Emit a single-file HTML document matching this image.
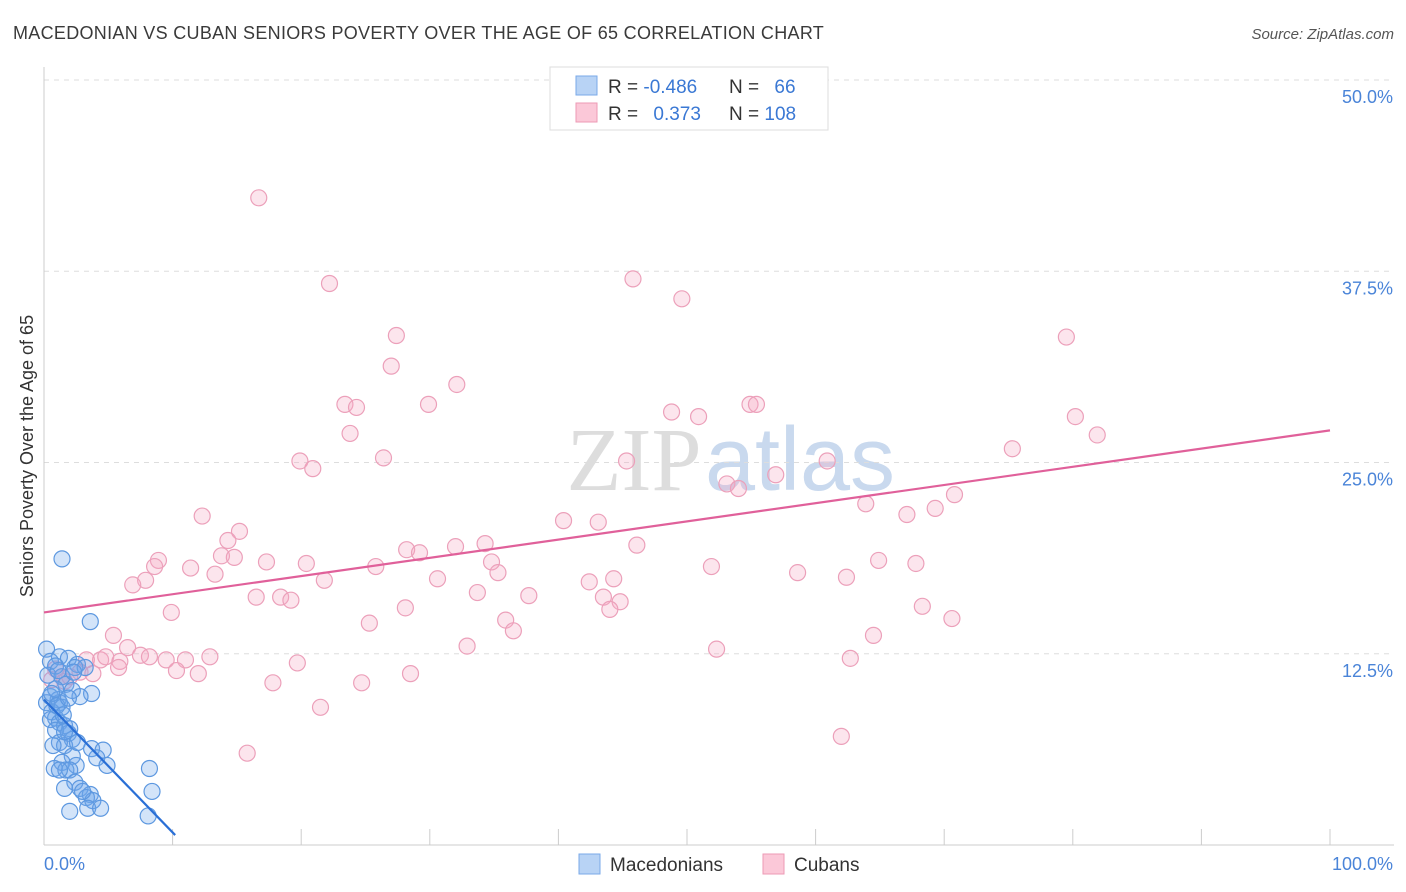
<!DOCTYPE html>
<html><head><meta charset="utf-8">
<style>
body{margin:0;background:#fff;font-family:"Liberation Sans",sans-serif;}
svg{display:block}
</style></head>
<body>
<svg id="chart" width="1406" height="892" xmlns="http://www.w3.org/2000/svg">
<text x="13" y="39" font-size="18" fill="#3a3a3a" letter-spacing="0.3">MACEDONIAN VS CUBAN SENIORS POVERTY OVER THE AGE OF 65 CORRELATION CHART</text>
<text x="1394" y="39" font-size="15" fill="#555" text-anchor="end" font-style="italic">Source: ZipAtlas.com</text>
<g font-size="90" text-anchor="middle">
<text x="634" y="490" fill="#ddd" font-family="Liberation Serif,serif">ZIP</text>
<text x="800" y="490" fill="#c9d9ee">atlas</text>
</g>
<g id="grid"></g>
<g id="axes"></g>
<g id="pts"></g>
<g id="lines"></g>
<text transform="translate(33,456) rotate(-90)" font-size="18" fill="#333" text-anchor="middle">Seniors Poverty Over the Age of 65</text>
<g>
<rect x="550" y="67" width="278" height="63" fill="#fff" stroke="#ddd"/>
<rect x="576" y="76" width="21" height="19" fill="#b8d3f5" stroke="#7aaae8"/>
<rect x="576" y="103" width="21" height="19" fill="#fbc8d8" stroke="#ec9ab5"/>
<text x="608" y="93" font-size="19" fill="#333">R = <tspan fill="#3a78d4">-0.486</tspan></text>
<text x="729" y="93" font-size="19" fill="#333">N = <tspan fill="#3a78d4" dx="10">66</tspan></text>
<text x="608" y="120" font-size="19" fill="#333">R = <tspan fill="#3a78d4" dx="10">0.373</tspan></text>
<text x="729" y="120" font-size="19" fill="#333">N = <tspan fill="#3a78d4">108</tspan></text>
</g>
<g>
<rect x="579" y="854" width="21" height="20" fill="#b8d3f5" stroke="#7aaae8"/>
<text x="610" y="871" font-size="19" fill="#333">Macedonians</text>
<rect x="763" y="854" width="21" height="20" fill="#fbc8d8" stroke="#ec9ab5"/>
<text x="794" y="871" font-size="19" fill="#333">Cubans</text>
</g>
</svg>
<script>
const yTicks=[12.5,25,37.5,50];
const yTickLabels=["12.5%","25.0%","37.5%","50.0%"];
const xTickLabels=["0.0%","100.0%"];
const blueX=[1.4,3.6,0.2,1.2,1.9,0.5,0.9,2.6,2.4,0.3,1.4,1.7,3.7,2.8,0.5,1.1,0.2,1.2,0.6,0.9,0.5,1.2,1.6,2.0,0.9,1.9,2.2,1.2,1.6,3.7,4.6,2.2,4.1,1.4,2.5,4.9,0.8,1.7,2.0,8.2,2.4,1.6,2.8,3.6,3.3,3.8,8.4,3.4,4.4,2.0,8.1,0.9,2.2,3.2,0.6,1.4,1.6,2.6,1.2,3.0,1.1,2.3,1.0,1.5,1.9,0.7];
const blueY=[18.7,14.6,12.8,12.3,12.2,12.0,11.7,11.8,11.6,11.1,11.0,10.5,9.9,9.7,9.7,9.5,9.3,9.3,8.7,8.3,8.2,8.0,7.8,7.6,7.5,7.3,6.9,6.7,6.5,6.3,6.2,5.8,5.7,5.4,5.2,5.2,5.0,4.9,4.9,5.0,4.1,3.7,3.7,3.3,3.1,2.9,3.5,2.4,2.4,2.2,1.9,10.2,10.1,11.6,9.9,9.0,7.4,6.7,4.9,3.5,11.4,11.3,9.1,8.5,9.6,6.5];
const pinkX=[16.7,22.2,45.8,49.6,27.4,79.5,27.0,32.1,23.4,24.3,29.9,48.8,50.9,54.9,55.4,80.2,81.9,23.8,26.4,19.9,20.9,45.3,60.9,75.3,53.1,54.0,56.9,70.8,63.9,69.3,67.1,12.3,40.4,43.1,15.2,14.3,46.1,34.3,32.0,28.2,29.2,13.8,14.8,8.9,8.6,17.3,20.4,11.4,25.8,34.8,64.9,67.8,51.9,35.3,58.6,62.4,13.3,7.9,6.9,21.8,30.6,42.4,44.3,16.5,18.4,19.2,33.7,37.7,43.5,44.8,44.0,9.9,28.1,68.3,70.6,25.3,35.9,36.5,5.4,64.5,6.5,7.5,32.9,52.3,12.9,9.5,11.0,19.7,3.3,4.4,4.8,5.9,8.2,10.3,12.0,28.5,62.7,5.8,2.8,3.8,0.9,1.4,2.0,17.8,24.7,21.5,62.0,15.8,0.6,1.6];
const pinkY=[42.3,36.7,37.0,35.7,33.3,33.2,31.3,30.1,28.8,28.6,28.8,28.3,28.0,28.8,28.8,28.0,26.8,26.9,25.3,25.1,24.6,25.1,25.1,25.9,23.6,23.3,24.2,22.9,22.3,22.0,21.6,21.5,21.2,21.1,20.5,19.9,19.6,19.7,19.5,19.3,19.1,18.9,18.8,18.6,18.2,18.5,18.4,18.1,18.2,18.5,18.6,18.4,18.2,17.8,17.8,17.5,17.7,17.3,17.0,17.3,17.4,17.2,17.4,16.2,16.2,16.0,16.5,16.3,16.2,15.9,15.4,15.2,15.5,15.6,14.8,14.5,14.7,14.0,13.7,13.7,12.9,12.4,13.0,12.8,12.3,12.1,12.1,11.9,12.1,12.1,12.3,12.0,12.3,11.4,11.2,11.2,12.2,11.6,11.3,11.2,11.5,11.0,11.0,10.6,10.6,9.0,7.1,6.0,10.8,10.7];
const pinkTrend=[15.2,27.1];
const blueTrend=[9.5,0.65,10.2];
const NS="http://www.w3.org/2000/svg";
const sx=v=>44+v*12.86, sy=v=>845-v*15.3;
function mk(tag,attrs,parent){const e=document.createElementNS(NS,tag);for(const k in attrs)e.setAttribute(k,attrs[k]);parent.appendChild(e);return e;}
const grid=document.getElementById('grid'),axes=document.getElementById('axes'),pts=document.getElementById('pts'),lines=document.getElementById('lines');
yTicks.forEach((t,i)=>{
 const l=mk('line',{x1:44,x2:1394,y1:sy(t),y2:sy(t),stroke:'#ddd','stroke-dasharray':'5,5'},grid);
 
 
 const tx=mk('text',{x:1393,y:sy(t)+23,'font-size':18,fill:'#4a84d8','text-anchor':'end'},axes);
 tx.textContent=yTickLabels[i];
 
 
});
mk('line',{x1:44,x2:44,y1:67,y2:845,stroke:'#ccc'},axes);
mk('line',{x1:44,x2:1394,y1:845,y2:845,stroke:'#ccc'},axes);
for(let i=0;i<=10;i++){const t=mk('line',{x1:sx(i*10),x2:sx(i*10),y1:829,y2:845,stroke:'#ccc'},axes);}
const xl0=mk('text',{x:44,y:870,'font-size':18,fill:'#4a84d8'},axes);xl0.textContent=xTickLabels[0];


const xl1=mk('text',{x:1393,y:870,'font-size':18,fill:'#4a84d8','text-anchor':'end'},axes);xl1.textContent=xTickLabels[1];


pinkX.forEach((x,i)=>{const c=mk('circle',{cx:sx(x),cy:sy(pinkY[i]),r:8,fill:'rgba(245,170,195,0.3)',stroke:'#eca0ba','stroke-width':1.2},pts);
 
 });
blueX.forEach((x,i)=>{const c=mk('circle',{cx:sx(x),cy:sy(blueY[i]),r:8,fill:'rgba(110,165,235,0.3)',stroke:'#5d98e0','stroke-width':1.2},pts);
 
 });
const pl=mk('line',{x1:sx(0),y1:sy(pinkTrend[0]),x2:sx(100),y2:sy(pinkTrend[1]),stroke:'#e0609a','stroke-width':2.2},lines);


const bl=mk('line',{x1:sx(0),y1:sy(blueTrend[0]),x2:sx(blueTrend[2]),y2:sy(blueTrend[1]),stroke:'#2a6fd6','stroke-width':2.2},lines);


</script>
</body></html>
